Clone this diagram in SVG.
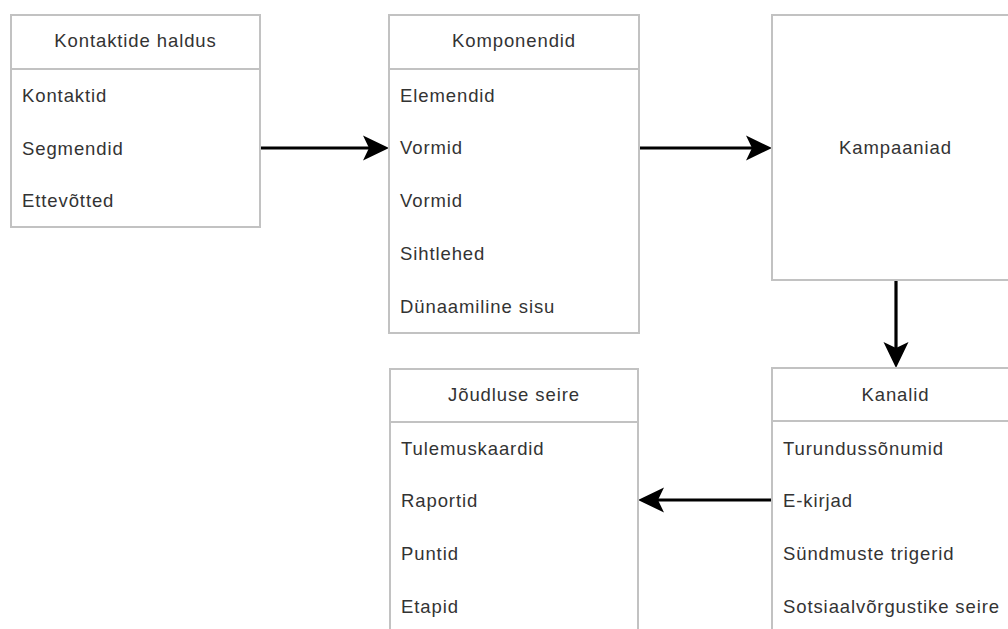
<svg xmlns="http://www.w3.org/2000/svg" width="1008" height="629" viewBox="0 0 1008 629">
<style>
.box{fill:#ffffff;stroke:#c2c2c2;stroke-width:2}
.div{stroke:#c2c2c2;stroke-width:2}
.t{font-family:"Liberation Sans",Arial,sans-serif;font-size:18.5px;letter-spacing:0.9px;fill:#333333}
.h{text-anchor:middle}
.conn{fill:none;stroke:#000000;stroke-width:3.2}
</style>
<defs>
<marker id="arr" markerUnits="userSpaceOnUse" viewBox="0 0 26 26" refX="6" refY="13" markerWidth="26" markerHeight="26" orient="auto">
<path d="M0,0.5 L26,13 L0,25.5 L6,13 Z" fill="#000000"/>
</marker>
</defs>
<rect width="1008" height="629" fill="#ffffff"/>
<g id="connectors">
<path class="conn" d="M260,148 L369,148" marker-end="url(#arr)"/>
<path class="conn" d="M639,148 L752,148" marker-end="url(#arr)"/>
<path class="conn" d="M896,281 L896,348" marker-end="url(#arr)"/>
<path class="conn" d="M772,500 L658,500" marker-end="url(#arr)"/>
</g>
<g id="kontaktide-haldus">
<rect class="box" x="11" y="15" width="249" height="212"/>
<line class="div" x1="11" y1="69" x2="260" y2="69"/>
<text class="t h" x="135.5" y="47">Kontaktide haldus</text>
<text class="t" x="22" y="102">Kontaktid</text>
<text class="t" x="22" y="154.5">Segmendid</text>
<text class="t" x="22" y="207">Ettevõtted</text>
</g>
<g id="komponendid">
<rect class="box" x="389" y="15" width="250" height="318"/>
<line class="div" x1="389" y1="69" x2="639" y2="69"/>
<text class="t h" x="514" y="47">Komponendid</text>
<text class="t" x="400" y="101.5">Elemendid</text>
<text class="t" x="400" y="154.3">Vormid</text>
<text class="t" x="400" y="207.1">Vormid</text>
<text class="t" x="400" y="259.9">Sihtlehed</text>
<text class="t" x="400" y="312.7">Dünaamiline sisu</text>
</g>
<g id="kampaaniad">
<rect class="box" x="772" y="15" width="247" height="265"/>
<text class="t h" x="895.5" y="154">Kampaaniad</text>
</g>
<g id="kanalid">
<rect class="box" x="772" y="368" width="247" height="280"/>
<line class="div" x1="772" y1="421" x2="1019" y2="421"/>
<text class="t h" x="895.5" y="401">Kanalid</text>
<text class="t" x="783" y="454.5">Turundussõnumid</text>
<text class="t" x="783" y="507.3">E-kirjad</text>
<text class="t" x="783" y="560.1">Sündmuste trigerid</text>
<text class="t" x="783" y="612.9">Sotsiaalvõrgustike seire</text>
</g>
<g id="joudluse-seire">
<rect class="box" x="390" y="369" width="248" height="280"/>
<line class="div" x1="390" y1="422" x2="638" y2="422"/>
<text class="t h" x="514" y="401">Jõudluse seire</text>
<text class="t" x="401" y="454.5">Tulemuskaardid</text>
<text class="t" x="401" y="507.3">Raportid</text>
<text class="t" x="401" y="560.1">Puntid</text>
<text class="t" x="401" y="612.9">Etapid</text>
</g>
</svg>
